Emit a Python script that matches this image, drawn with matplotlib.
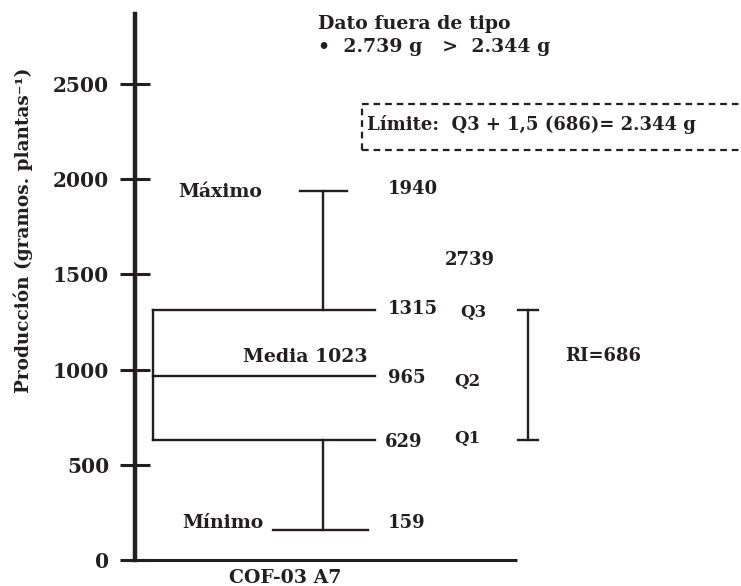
import matplotlib.pyplot as plt

# box plot summary values (g per plant)
minimo = 159
q1 = 629
q2 = 965
q3 = 1315
maximo = 1940
media = 1023
atipico = 2739
limite = 2344
ri = q3 - q1

y_ticks = [0, 500, 1000, 1500, 2000, 2500]
categoria = "COF-03 A7"

INK = "#231f20"
plt.rcParams["font.family"] = ["DejaVu Serif"]
plt.rcParams["font.weight"] = "bold"

fig = plt.figure(figsize=(7.41, 5.86), dpi=100)
# x data in pixels measured from the y axis
ax = fig.add_axes([135 / 741, 26 / 586, 606 / 741, 546 / 586])
ax.set_xlim(0, 606)
ax.set_ylim(0, 2868)

for s in ["top", "right", "bottom"]:
    ax.spines[s].set_visible(False)
ax.spines["left"].set_linewidth(3.2)
ax.spines["left"].set_color(INK)
ax.set_xticks([])
ax.set_yticks(y_ticks)
ax.set_yticklabels([str(t) for t in y_ticks], fontsize=14.5, fontweight="bold", color=INK)
ax.tick_params(axis="y", direction="inout", length=21, width=2.2, color=INK, pad=8)
# base line
ax.plot([-7, 382], [0, 0], color=INK, lw=2.2, clip_on=False, solid_capstyle="butt")

lw = 1.7
# box
bx0, bx1 = 18, 240
ax.plot([bx0, bx1], [q3, q3], color=INK, lw=lw)
ax.plot([bx0, bx1], [q2, q2], color=INK, lw=lw)
ax.plot([bx0, bx1], [q1, q1], color=INK, lw=lw)
ax.plot([bx0, bx0], [q1, q3], color=INK, lw=lw)
# whiskers
wx = 188
ax.plot([wx, wx], [q3, maximo], color=INK, lw=lw)
ax.plot([165, 212], [maximo, maximo], color=INK, lw=lw)
ax.plot([wx, wx], [q1, minimo], color=INK, lw=lw)
ax.plot([138, 233], [minimo, minimo], color=INK, lw=lw)
# RI bracket
rx = 393
ax.plot([rx, rx], [q1, q3], color=INK, lw=lw)
ax.plot([rx - 10, rx + 10], [q3, q3], color=INK, lw=lw)
ax.plot([rx - 10, rx + 10], [q1, q1], color=INK, lw=lw)

kw = dict(fontsize=13, fontweight="bold", color=INK, va="center")
kw_w = dict(kw, fontsize=13.6)
ax.text(253, maximo + 10, f"{maximo}", **kw)
ax.text(43, maximo - 5, "Máximo", **kw_w)
ax.text(310, 1576, f"{atipico}", **kw)
ax.text(253, q3 + 5, f"{q3}", **kw)
ax.text(325, q3 - 15, "Q3", fontsize=12, fontweight="bold", color=INK, va="center")
ax.text(233, q2 + 100, f"Media {media}", ha="right", **kw_w)
ax.text(253, q2 - 10, f"{q2}", **kw)
ax.text(319, q2 - 25, "Q2", fontsize=12, fontweight="bold", color=INK, va="center")
ax.text(250, q1 - 10, f"{q1}", **kw)
ax.text(319, q1 + 10, "Q1", fontsize=12, fontweight="bold", color=INK, va="center")
ax.text(430, (q1 + q3) / 2 + 100, f"RI={ri}", **kw)
ax.text(47, minimo + 35, "Mínimo", **kw_w)
ax.text(253, minimo + 35, f"{minimo}", **kw)

# outlier note
ax.text(183, 2815, "Dato fuera de tipo", **kw_w)
ax.text(183, 2694, "•  2.739 g   >  2.344 g", **kw_w)
ax.text(232, 2285, "Límite:  Q3 + 1,5 (686)= 2.344 g", **kw)
dash = dict(color=INK, lw=1.6, ls=(0, (3, 2.2)), clip_on=False)
ax.plot([227, 606], [2395, 2395], **dash)
ax.plot([227, 606], [2153, 2153], **dash)
ax.plot([227, 227], [2153, 2395], **dash)

ax.text(150, -95, categoria, ha="center", va="center", **{k: v for k, v in kw_w.items() if k != "va"})
ax.set_ylabel("Producción (gramos. plantas⁻¹)", fontsize=13.3, fontweight="bold", color=INK)
ax.yaxis.set_label_coords(-0.168, 0.604)

fig.savefig("out.png", dpi=100)
